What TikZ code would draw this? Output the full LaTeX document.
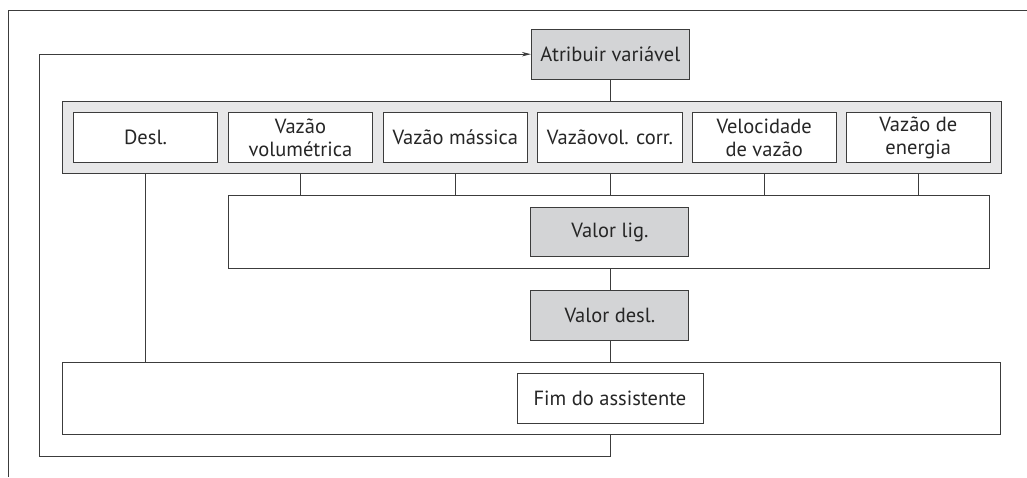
\documentclass[tikz,border=0pt]{standalone}
\usepackage{fontspec}
\setmainfont{PT Sans}
\usetikzlibrary{arrows.meta}
\definecolor{ln}{HTML}{3C3C3C}
\definecolor{dk}{HTML}{D3D4D6}
\definecolor{lt}{HTML}{E7E7E8}
\definecolor{tx}{HTML}{262626}
\tikzset{
  box/.style={draw=ln, line width=0.9pt, rectangle, inner sep=0pt, align=center,
    text=tx, font=\fontsize{20.5}{23}\selectfont, fill=white},
  graybox/.style={box, fill=dk, minimum width=158pt, minimum height=49.5pt},
  opt/.style={box, minimum width=144.3pt, minimum height=49.6pt},
  frame/.style={draw=ln, line width=0.9pt, rectangle, inner sep=0pt},
  con/.style={draw=ln, line width=0.8pt}
}
\begin{document}
\begin{tikzpicture}[x=1pt,y=-1pt]
\useasboundingbox (0,0) rectangle (1027,477);
% outer frame
\coordinate (f1) at (8,477);
\coordinate (f2) at (8,10);
\coordinate (f3) at (1027,10);
\draw[con, line width=1pt] (f1) -- (f2) -- (f3);

\node[graybox] (atr) at (610.3,54.2) {Atribuir variável};

\node[frame, fill=lt, minimum width=939.4pt, minimum height=72pt] (cont) at (532,137.3) {};
\node[opt] (b1) at (145.5,137.5) {Desl.};
\node[opt] (b2) at (300.5,137.5) {Vazão\\volumétrica};
\node[opt] (b3) at (455.3,137.5) {Vazão mássica};
\node[opt] (b4) at (610,137.5) {Vazãovol. corr.};
\node[opt] (b5) at (764.2,137.5) {Velocidade\\de vazão};
\node[opt] (b6) at (918.3,137.5) {Vazão de\\energia};

\node[frame, minimum width=761pt, minimum height=72.3pt] (ligbox) at (608.8,231.9) {};
\node[graybox] (lig) at (609.9,232) {Valor lig.};
\node[graybox] (desl) at (609.9,315.2) {Valor desl.};

\node[frame, minimum width=938.4pt, minimum height=72pt] (fimbox) at (531.5,398.3) {};
\node[box, minimum width=186pt, minimum height=50pt] (fim) at (610,398.3) {Fim do assistente};

% connectors
\draw[con] (atr.south) -- (atr.south|-cont.north);
\draw[con] (b1|-cont.south) -- (b1|-fimbox.north);
\foreach \b in {b2,b3,b4,b5,b6}{
  \draw[con] (\b|-cont.south) -- (\b|-ligbox.north);
}
\draw[con] (desl.north|-ligbox.south) -- (desl.north);
\draw[con] (desl.south) -- (desl.south|-fimbox.north);

\coordinate (lb) at (610,456.7);
\coordinate (ll) at (39.5,456.7);
\coordinate (lt) at (39.5,54.2);
\draw[con, -{Stealth[length=9pt,width=4.5pt]}] (lb|-fimbox.south) -- (lb) -- (ll) -- (lt) -- (atr.west);
\end{tikzpicture}
\end{document}
